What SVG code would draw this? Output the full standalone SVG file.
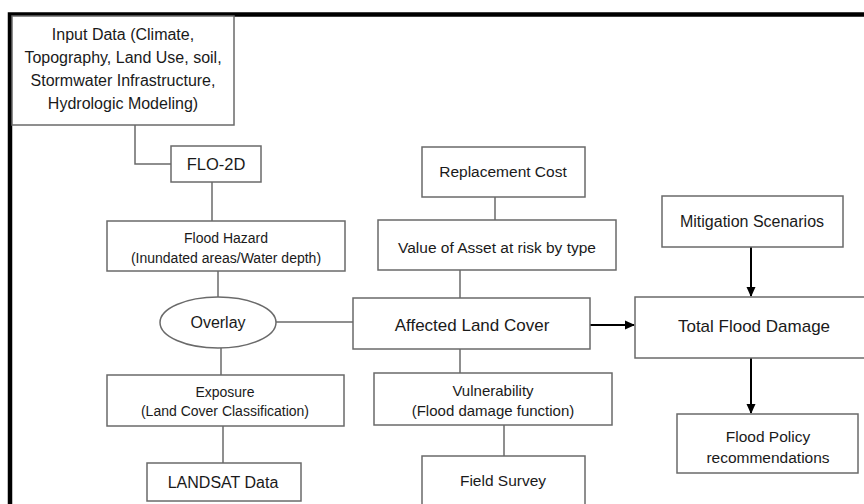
<svg xmlns="http://www.w3.org/2000/svg" width="864" height="504" viewBox="0 0 864 504">
<style>
.box{fill:#fff;stroke:#6a6a6a;stroke-width:1.5}
.ln{fill:none;stroke:#6a6a6a;stroke-width:1.5}
.ar{fill:none;stroke:#000;stroke-width:2}
text{font-family:"Liberation Sans",Arial,sans-serif;fill:#1a1a1a;text-anchor:middle}
</style>
<defs>
<marker id="ah" markerWidth="10" markerHeight="10" refX="9" refY="5" orient="auto" markerUnits="userSpaceOnUse">
<path d="M0,0.5 L10,5 L0,9.5 Z" fill="#000"/>
</marker>
</defs>
<rect width="864" height="504" fill="#fff"/>
<path d="M10,510 L10,14.5 L870,14.5" fill="none" stroke="#000" stroke-width="4.5"/>
<g id="connectors">
<path class="ln" d="M135,125 V164 H171"/>
<path class="ln" d="M212,182 V221"/>
<path class="ln" d="M218,271 V297"/>
<path class="ln" d="M276,322 H353"/>
<path class="ln" d="M221,348 V375"/>
<path class="ln" d="M223,426 V463"/>
<path class="ln" d="M495,197 V220"/>
<path class="ln" d="M460,270 V298"/>
<path class="ln" d="M460,349 V373"/>
<path class="ln" d="M504,425 V456"/>
<path class="ar" d="M590,325 H634" marker-end="url(#ah)"/>
<path class="ar" d="M751,247 V296" marker-end="url(#ah)"/>
<path class="ar" d="M751,358 V413" marker-end="url(#ah)"/>
</g>
<g id="input">
<rect class="box" x="12" y="16" width="222" height="109"/>
<text font-size="16" x="123" y="39.5">Input Data (Climate,</text>
<text font-size="16" x="123" y="62.5">Topography, Land Use, soil,</text>
<text font-size="16" x="123" y="85.5">Stormwater Infrastructure,</text>
<text font-size="16" x="123" y="109">Hydrologic Modeling)</text>
</g>
<g id="flo2d">
<rect class="box" x="171" y="146" width="90" height="36"/>
<text font-size="16.5" x="216" y="170">FLO-2D</text>
</g>
<g id="hazard">
<rect class="box" x="107" y="221" width="238" height="50"/>
<text font-size="14" x="226" y="243">Flood Hazard</text>
<text font-size="14" x="226" y="263">(Inundated areas/Water depth)</text>
</g>
<g id="overlay">
<ellipse class="box" cx="218" cy="322.5" rx="58" ry="25.5"/>
<text font-size="16" x="218" y="328">Overlay</text>
</g>
<g id="exposure">
<rect class="box" x="107" y="375" width="237" height="51"/>
<text font-size="14" x="225" y="397">Exposure</text>
<text font-size="14" x="225" y="416">(Land Cover Classification)</text>
</g>
<g id="landsat">
<rect class="box" x="147" y="463" width="154" height="38"/>
<text font-size="16" x="223" y="488">LANDSAT Data</text>
</g>
<g id="replacement">
<rect class="box" x="422" y="147" width="163" height="50"/>
<text font-size="15.5" x="503" y="176.5">Replacement Cost</text>
</g>
<g id="value">
<rect class="box" x="378" y="220" width="238" height="50"/>
<text font-size="15.5" x="497" y="252.5">Value of Asset at risk by type</text>
</g>
<g id="affected">
<rect class="box" x="353" y="298" width="237" height="51"/>
<text font-size="17" x="472" y="331">Affected Land Cover</text>
</g>
<g id="vulnerability">
<rect class="box" x="374" y="373" width="238" height="52"/>
<text font-size="15" x="493" y="396">Vulnerability</text>
<text font-size="15" x="493" y="416">(Flood damage function)</text>
</g>
<g id="field">
<rect class="box" x="422" y="456" width="163" height="60"/>
<text font-size="15.5" x="503" y="485.5">Field Survey</text>
</g>
<g id="mitigation">
<rect class="box" x="662" y="196" width="181" height="51"/>
<text font-size="16" x="752" y="226.5">Mitigation Scenarios</text>
</g>
<g id="total">
<rect class="box" x="635" y="297" width="240" height="61"/>
<text font-size="17" x="754" y="332">Total Flood Damage</text>
</g>
<g id="policy">
<rect class="box" x="677" y="414" width="181" height="59"/>
<text font-size="15.5" x="768" y="441.5">Flood Policy</text>
<text font-size="15.5" x="768" y="462.5">recommendations</text>
</g>
</svg>
